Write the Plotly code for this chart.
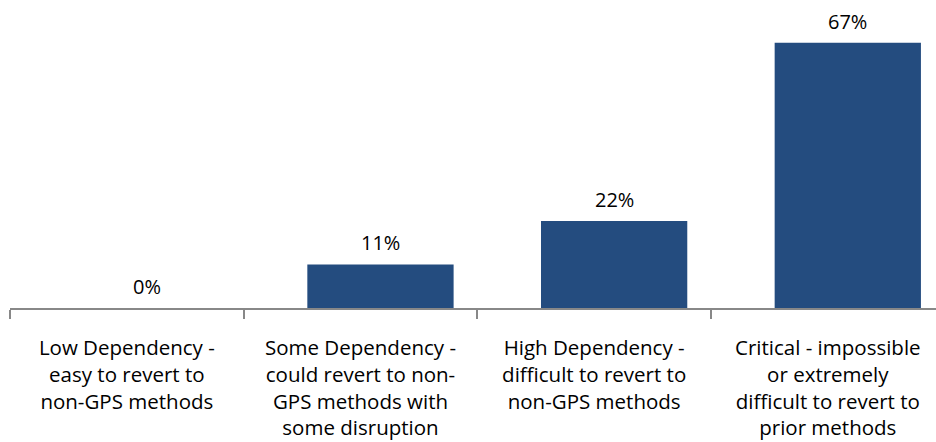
import plotly.graph_objects as go

categories = [
    "Low Dependency -<br>easy to revert to<br>non-GPS methods",
    "Some Dependency -<br>could revert to non-<br>GPS methods with<br>some disruption",
    "High Dependency -<br>difficult to revert to<br>non-GPS methods",
    "Critical - impossible<br>or extremely<br>difficult to revert to<br>prior methods",
]
values = [0, 11, 22, 67]
value_labels = ["0%", "11%", "22%", "67%"]

BAR_COLOR = "#244C7F"
AXIS_COLOR = "#888888"
FONT = "Open Sans"
BAR_OFFSET = -0.2275
BAR_WIDTH = 0.626

fig = go.Figure()
fig.add_trace(go.Bar(
    x=categories,
    y=values,
    marker=dict(color=BAR_COLOR, line=dict(width=0)),
    offset=BAR_OFFSET,
    width=BAR_WIDTH,
    hoverinfo="skip",
))

center_shift = BAR_OFFSET + BAR_WIDTH / 2
for i, (v, lab) in enumerate(zip(values, value_labels)):
    fig.add_annotation(
        x=i + center_shift, y=v, xref="x", yref="y",
        text=lab, showarrow=False, yanchor="bottom", xanchor="center",
        yshift=6, font=dict(family=FONT, size=20, color="#000000"),
    )

fig.update_layout(
    width=936, height=442,
    margin=dict(l=10, r=0, t=0, b=134),
    paper_bgcolor="white", plot_bgcolor="white",
    showlegend=False,
    xaxis=dict(
        type="category",
        range=[-0.5, 3.463],
        tickson="boundaries",
        ticks="outside", ticklen=9, tickcolor=AXIS_COLOR, tickwidth=1.5,
        showline=True, linecolor=AXIS_COLOR, linewidth=1.5,
        showgrid=False, zeroline=False,
        tickfont=dict(family=FONT, size=20.5, color="#000000"),
        ticklabelstandoff=21,
    ),
    yaxis=dict(
        range=[0, 77.8], visible=False, showgrid=False, zeroline=False,
    ),
)

fig.write_html("out.html")
